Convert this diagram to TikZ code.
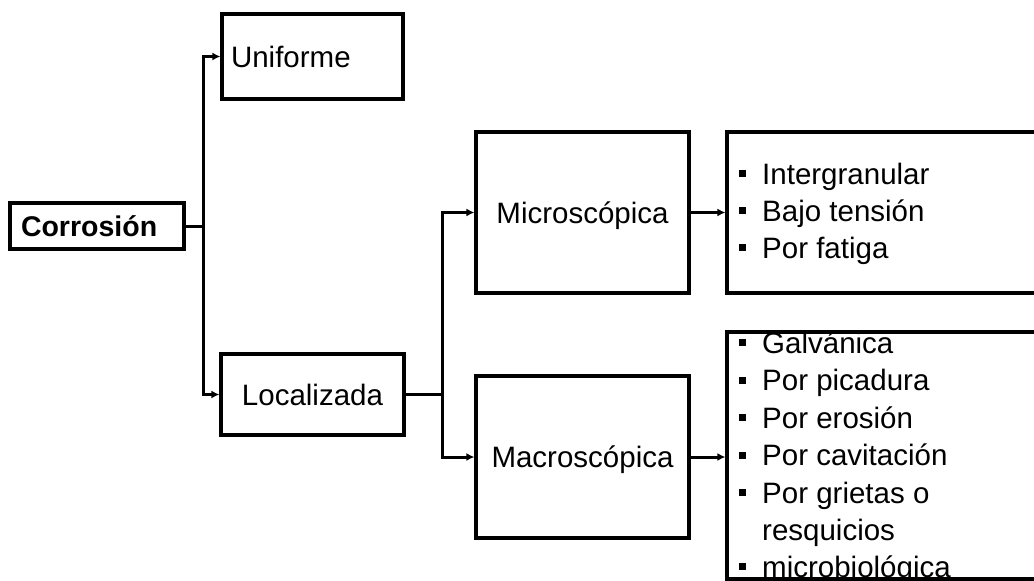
\documentclass[tikz,border=0pt]{standalone}
\usepackage{fontspec}
\setmainfont{Liberation Sans}
\usetikzlibrary{arrows.meta}
\begin{document}
\begin{tikzpicture}[x=1pt,y=-1pt,
  box/.style={draw=black, line width=3.2pt, inner sep=0pt, text height=21pt, text depth=0pt,
    font=\fontsize{29.5}{35}\selectfont},
  link/.style={line width=3pt},
  conn/.style={line width=3pt, -{Latex[length=8pt,width=8pt]}},
  item/.style={anchor=base west, inner sep=0pt, font=\fontsize{29.5}{35}\selectfont}]
\newcommand{\sqbul}{\rule[7pt]{7pt}{7pt}\hspace{16pt}}
\useasboundingbox (0,0) rectangle (1034,581);
\fill[white] (0,0) rectangle (1034,581);

% main boxes
\node[box, minimum width=174pt, minimum height=46pt, text width=152pt, inner xsep=11pt,
  align=left, text height=20pt, font=\bfseries\fontsize{28.5}{34}\selectfont] (cor) at (97,226) {Corrosión};
\node[box, minimum width=181pt, minimum height=85pt, text width=163pt, inner xsep=9pt,
  align=left] (uni) at (312.5,56.5) {Uniforme};
\node[box, minimum width=183pt, minimum height=81pt] (loc) at (312.5,394.5) {Localizada};
\node[box, minimum width=213pt, minimum height=161pt] (mic) at (582.5,212.5) {Microscópica};
\node[box, minimum width=213pt, minimum height=162pt] (mac) at (582.5,457) {Macroscópica};

% list boxes (open to the right)
\node[box, minimum width=320pt, minimum height=161pt] (mil) at (887,212.5) {};
\node[box, minimum width=320pt, minimum height=247pt] (mal) at (887,455.5) {};

% list entries
\node[item] (m1) at (739,184) {\sqbul Intergranular};
\node[item] (m2) at (739,221) {\sqbul Bajo tensión};
\node[item] (m3) at (739,258) {\sqbul Por fatiga};

\node[item] (g1) at (739,353) {\sqbul Galvánica};
\node[item] (g2) at (739,390.5) {\sqbul Por picadura};
\node[item] (g3) at (739,428) {\sqbul Por erosión};
\node[item] (g4) at (739,465.5) {\sqbul Por cavitación};
\node[item] (g5) at (739,503) {\sqbul Por grietas o};
\node[item] (g6) at (762,540.5) {resquicios};
\node[item] (g7) at (739,577) {\sqbul microbiológica};

% connectors
\coordinate (j1) at (203,226);
\coordinate (j2) at (442,394.5);
\draw[link] (cor.east) -- (j1);
\draw[conn] (j1) |- (uni.west);
\draw[conn] (j1) |- (loc.west);
\draw[link] (loc.east) -- (j2);
\draw[conn] (j2) |- (mic.west);
\draw[conn] (j2) |- (mac.west);
\draw[conn] (mic.east) -- (mic.east -| mil.west);
\draw[conn] (mac.east) -- (mac.east -| mal.west);
\end{tikzpicture}
\end{document}
